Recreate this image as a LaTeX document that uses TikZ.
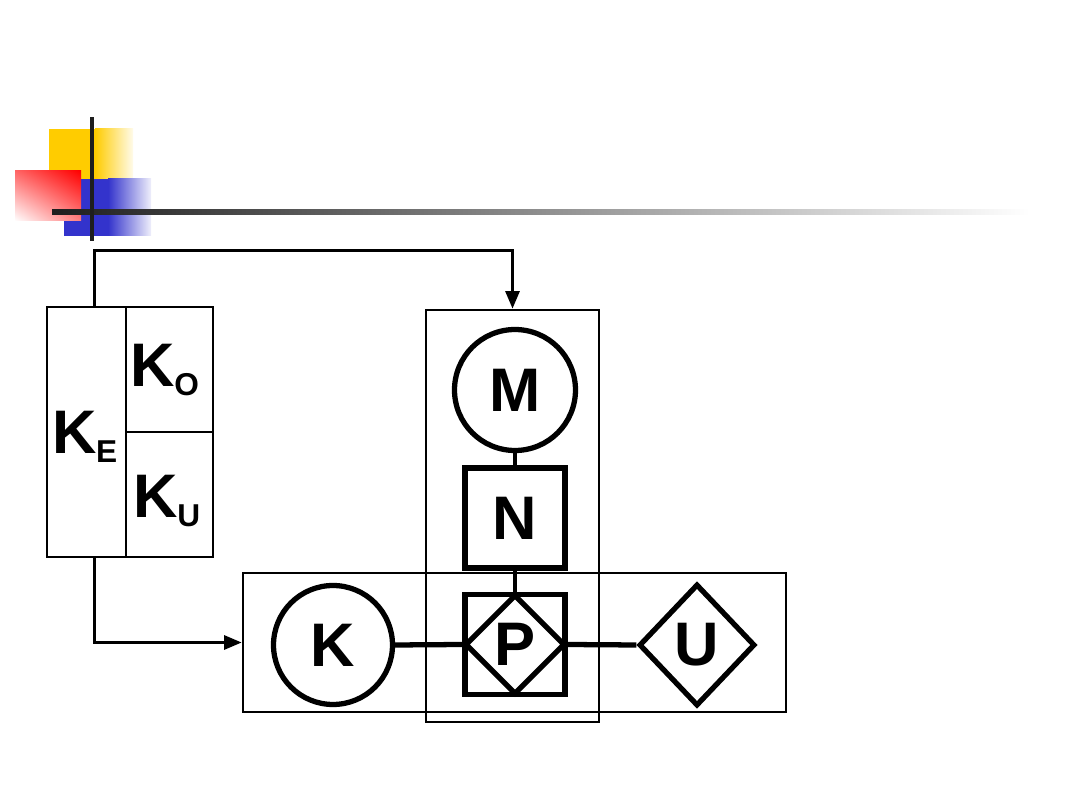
\documentclass[tikz,border=0pt]{standalone}
\usepackage{fontspec}
\setmainfont{Liberation Sans}
\usepackage{tikz}
\usetikzlibrary{arrows.meta,positioning,calc,shapes.geometric,shadings}
\definecolor{slideyellow}{HTML}{FFCC00}
\definecolor{slidered}{HTML}{FF0000}
\definecolor{slideblue}{HTML}{3333CC}
\definecolor{rulegray}{HTML}{1E1E1E}
\newcommand{\kidx}[2]{#1\kern-0.5pt\raisebox{-5pt}{\fontsize{18}{20}\selectfont #2}}

\begin{document}
\begin{tikzpicture}[x=0.02cm,y=-0.02cm,
  thinbox/.style={draw,line width=1.6pt,inner sep=0pt},
  heavy/.style={draw,line width=3pt,inner sep=0pt},
  lbl/.style={font=\fontsize{35}{40}\selectfont\bfseries},
  arr/.style={line width=1.6pt,-{Triangle[length=10pt,width=8pt]}}]
  \useasboundingbox (0,0) rectangle (1080,810);
  \fill[slideyellow] (49,129) rectangle (95,180);
  \shade[left color=slideyellow,right color=slideyellow!8] (95,129) rectangle (133,180);
  \fill[slideblue] (64,179) rectangle (108,236);
  \shade[left color=slideblue,right color=slideblue!8] (108,179) rectangle (151,236);
  \shade[upper right=slidered,lower left=white,upper left=slidered!60,lower right=slidered!50] (15,171) rectangle (81,221);
  \shade[left color=rulegray,middle color=rulegray!85,right color=white] (52,210) rectangle (1030,215);
  \fill[rulegray] (90,117) rectangle (94,241);

  \node[thinbox,minimum width=3.32cm,minimum height=5cm] (ke) at (130,432) {};
  \node[thinbox,minimum width=1.74cm,minimum height=2.5cm,anchor=north east] (ko) at (ke.north east) {};
  \node[thinbox,minimum width=1.74cm,minimum height=2.5cm,anchor=south east] (ku) at (ke.south east) {};
  \node[lbl] (kelbl) at (85,437) {\kidx{K}{E}};
  \node[lbl] (kolbl) at (165,370) {\kidx{K}{O}};
  \node[lbl] (kulbl) at (167,501) {\kidx{K}{U}};

  \node[thinbox,minimum width=3.46cm,minimum height=8.24cm] (mbox) at (512.5,516) {};
  \node[thinbox,minimum width=10.86cm,minimum height=2.78cm] (hbox) at (514.5,642.5) {};
  \node[heavy,circle,minimum size=2.42cm,lbl] (m) at (515,390) {M};
  \node[heavy,minimum size=2cm,lbl] (n) at (515,518) {N};
  \node[heavy,minimum size=2cm] (psq) at (515,644.5) {};
  \node[heavy,diamond,minimum size=2cm,lbl] (p) at (psq) {P};
  \node[heavy,circle,minimum size=2.38cm,lbl] (k) at (333,645) {K};
  \node[heavy,diamond,minimum width=2.32cm,minimum height=2.44cm,lbl] (u) at (697,645) {U};

  \draw[line width=3pt] (k.east) -- (p.west);
  \draw[line width=3pt] (p.east) -- (u.west);
  \draw[line width=2.4pt] (m.south) -- (n.north);
  \draw[line width=2.4pt] (n.south) -- (psq.north);

  \coordinate (tapt) at ($(ke.north west)!0.29!(ke.north east)$);
  \coordinate (tapb) at ($(ke.south west)!0.29!(ke.south east)$);
  \coordinate (bend) at ($(tapt)+(0,-55)$);
  \draw[arr] (tapt) -- (bend) -| (mbox.north);
  \draw[arr] (tapb) |- (hbox.west);
\end{tikzpicture}
\end{document}
